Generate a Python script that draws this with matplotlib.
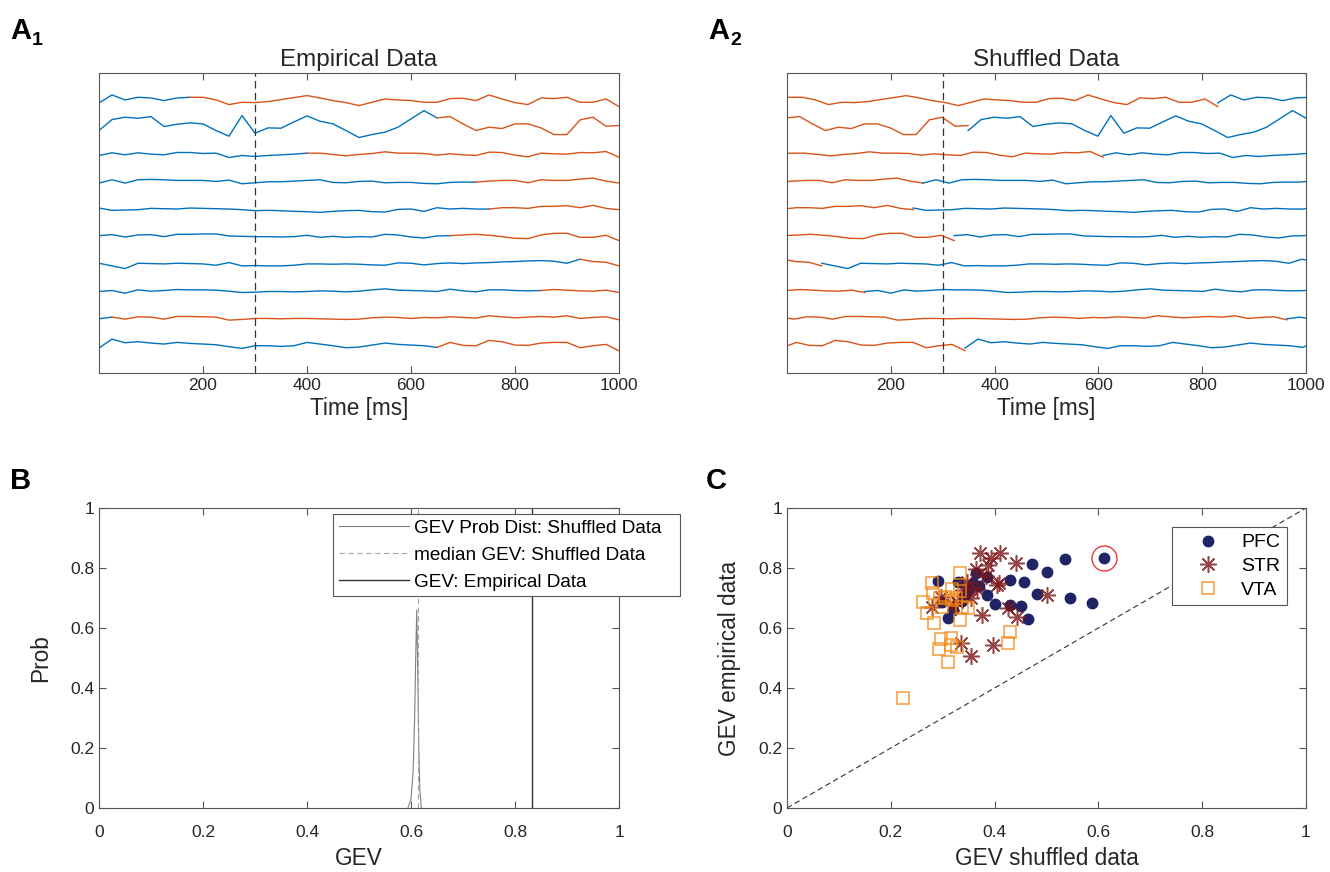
import numpy as np
import matplotlib.pyplot as plt
from matplotlib.lines import Line2D

plt.rcParams['font.family'] = ['Liberation Sans', 'DejaVu Sans']
plt.rcParams['axes.linewidth'] = 0.8
plt.rcParams['axes.edgecolor'] = '#555555'

# --- A: example trials (top to bottom), samples every 25 ms, arbitrary units
time_ms = np.arange(0, 1001, 25)

trial_01 = [-8, 16, 1, 9, 7, -1, 7, 9, 9, 1, -13, -6, -7, -4, 2, 8, 14, 7, -1, -7, -16,
            -6, 4, 1, -1, -6, -6, 5, 6, -1, 16, 4, -7, -13, 7, 5, 9, -6, -6, 4, -19]
trial_02 = [-9, 24, 31, 28, 33, 3, 10, 14, 11, -9, -26, 36, -17, -1, -2, 17, 35, 19, 11, -9, -30,
            -21, -14, 1, 26, 51, 29, 33, 11, -9, 1, -3, 11, 11, -1, -21, -21, 23, 31, 4, 6]
trial_03 = [-2, 6, 0, 6, 2, 0, 7, 7, 4, 5, -8, -2, -5, -2, 0, 2, 5, 5, 1, -3, 1,
            4, 9, 5, 5, 4, -1, 3, 0, -2, 8, 7, -1, -6, 5, 3, 2, 7, 6, 10, -7]
trial_04 = [-3, 7, -3, 7, 8, 7, 5, 5, 5, 2, 6, -5, -2, 1, 1, 3, 5, 7, -1, -2, 2,
            3, -2, -1, -1, -4, -5, -1, 0, 0, 3, 5, 5, -2, 7, 5, 5, 9, 12, 3, -3]
trial_05 = [4, -3, -2, -1, 3, 2, 1, 4, 3, 2, 1, -1, -4, -3, -4, -6, -7, -9, -6, -4, -3,
            -7, -8, 0, 1, -6, 5, 1, 3, 1, 1, 5, 5, 3, 9, 9, 11, 5, 12, 3, -1]
trial_06 = [3, 6, -1, 5, 6, 0, 7, 7, 8, 8, 2, 1, 0, 0, -1, 0, 4, -2, 1, -2, 0,
            -1, 7, 5, -1, -4, 2, 3, 5, 7, 4, 0, -5, -6, 5, 10, 10, -2, -2, 4, -12]
trial_07 = [2, -6, -14, 2, 1, 0, 2, 1, 0, -4, 4, -6, -5, -6, -6, -4, 0, 0, -1, 0, -1,
            -3, -4, 3, 2, -3, 1, 3, 1, 3, 4, 6, 7, 9, 10, 8, 2, 14, 7, 5, -6]
trial_08 = [-1, 2, -6, 4, 0, 2, 5, 4, 4, 3, 0, -4, -3, -1, -1, -2, -1, 1, 0, -2, 0,
            4, 7, 3, 2, 1, -1, 6, 1, -2, 4, 4, 2, 1, 2, 5, 3, 1, 0, 3, -4]
trial_09 = [-1, 4, -2, 5, 4, -2, 6, 6, 5, 4, -5, -3, 0, 0, -1, 0, 0, -1, -2, -3, -2,
            2, 4, 3, 0, 3, 2, 5, 3, 1, 8, 5, 2, 4, 6, 4, 8, 0, 3, 5, -4]
trial_10 = [-7, 20, 9, 12, 8, 5, 10, 7, 5, 3, -3, -8, 0, 0, -2, 0, 10, 5, 0, -6, -4,
            2, 8, 4, 2, 0, -5, 10, 1, 0, 16, 12, 2, 1, 8, 10, 10, -6, 0, 4, -15]
trials = [trial_01, trial_02, trial_03, trial_04, trial_05,
          trial_06, trial_07, trial_08, trial_09, trial_10]

# time where the state label switches (blue -> orange) in the empirical data
switch_ms = [175, 650, 400, 725, 750, 675, 925, 850, 25, 650]
# circular shift applied to each trial for the shuffled data
shift_ms = [830, 349, 609, 262, 243, 322, 67, 150, 963, 343]
event_ms = 300

# --- B: GEV distribution of the shuffled data
gev_grid = [0.594, 0.600, 0.604, 0.607, 0.609, 0.611, 0.613, 0.615, 0.617, 0.620]
gev_prob = [0.0, 0.03, 0.12, 0.30, 0.50, 0.66, 0.45, 0.20, 0.06, 0.0]
gev_median = 0.613
gev_empirical = 0.833

# --- C: GEV per session, shuffled vs empirical
pfc_x = [0.611, 0.536, 0.473, 0.501, 0.430, 0.457, 0.290, 0.330, 0.364, 0.386, 0.482, 0.545, 0.587,
         0.386, 0.401, 0.430, 0.450, 0.465, 0.311, 0.351, 0.359, 0.343, 0.298, 0.320, 0.338, 0.370]
pfc_y = [0.835, 0.829, 0.815, 0.786, 0.760, 0.752, 0.757, 0.755, 0.782, 0.771, 0.715, 0.699, 0.682,
         0.710, 0.681, 0.678, 0.673, 0.631, 0.633, 0.729, 0.751, 0.710, 0.688, 0.660, 0.690, 0.740]
str_x = [0.372, 0.410, 0.394, 0.441, 0.364, 0.388, 0.409, 0.367, 0.340, 0.296, 0.319, 0.279,
         0.375, 0.426, 0.443, 0.327, 0.500, 0.396, 0.335, 0.354, 0.383, 0.347, 0.355, 0.405]
str_y = [0.849, 0.851, 0.832, 0.818, 0.796, 0.810, 0.751, 0.729, 0.727, 0.702, 0.677, 0.671,
         0.643, 0.666, 0.636, 0.688, 0.710, 0.543, 0.551, 0.507, 0.773, 0.754, 0.700, 0.745]
vta_x = [0.333, 0.280, 0.282, 0.263, 0.269, 0.284, 0.317, 0.295, 0.317, 0.333, 0.337, 0.349, 0.333,
         0.298, 0.430, 0.223, 0.311, 0.292, 0.297, 0.316, 0.327, 0.425, 0.316, 0.305, 0.325]
vta_y = [0.784, 0.751, 0.718, 0.688, 0.651, 0.618, 0.729, 0.699, 0.693, 0.723, 0.671, 0.666, 0.627,
         0.671, 0.588, 0.366, 0.488, 0.529, 0.565, 0.568, 0.538, 0.551, 0.545, 0.705, 0.700]
best_session = (0.611, 0.835)

blue = '#0072BD'
orange = '#D95319'
txt = '#262626'

fig = plt.figure(figsize=(13.3, 8.72), dpi=100)
W, H = 1330, 872

def add_ax(x0, y0, x1, y1):
    # pixel box -> figure fraction
    return fig.add_axes([x0 / W, 1 - y1 / H, (x1 - x0) / W, (y1 - y0) / H])

def style(ax, xpad=3.5):
    ax.tick_params(direction='in', top=True, right=True, length=5, width=0.8,
                   color='#555555', labelcolor=txt, labelsize=12.5)
    ax.tick_params(axis='x', pad=xpad)

axA1 = add_ax(99, 73, 619, 373)
axA2 = add_ax(787, 73, 1306, 373)
axB = add_ax(99, 508, 619, 808)
axC = add_ax(787, 508, 1306, 808)

scale = 1 / 82
n = len(trials)
for k, tr in enumerate(trials):
    y = (n - k) + np.array(tr) * scale
    sw = switch_ms[k]
    b = time_ms <= sw
    o = time_ms >= sw
    axA1.plot(time_ms[b], y[b], color=blue, lw=1.0)
    axA1.plot(time_ms[o], y[o], color=orange, lw=1.0)
    s = shift_ms[k]
    # end of the trial wraps around to the front
    axA2.plot(time_ms - (1000 - s), y, color=orange, lw=1.0)
    axA2.plot(time_ms + s, y, color=blue, lw=1.0)

for ax, title in [(axA1, 'Empirical Data'), (axA2, 'Shuffled Data')]:
    ax.axvline(event_ms, color='#333333', ls=(0, (6, 3.5)), lw=0.9)
    ax.set_xlim(0, 1000)
    ax.set_ylim(0, n + 1)
    ax.set_xticks([200, 400, 600, 800, 1000])
    ax.set_yticks([])
    style(ax)
    ax.set_xlabel('Time [ms]', fontsize=16.3, color=txt, labelpad=3)
    ax.set_title(title, fontsize=17.5, color=txt, pad=5)

# B
ticks01 = [0, 0.2, 0.4, 0.6, 0.8, 1]
ticklab = ['0', '0.2', '0.4', '0.6', '0.8', '1']
axB.plot(gev_grid, gev_prob, color='0.5', lw=0.8)
axB.plot([gev_median, gev_median], [0, 1], color='0.65', ls=(0, (5, 3)), lw=0.8)
axB.plot([gev_empirical, gev_empirical], [0, 1], color='0.2', lw=1.0)
axB.set_xlim(0, 1)
axB.set_ylim(0, 1)
axB.set_xticks(ticks01, ticklab)
axB.set_yticks(ticks01, ticklab)
style(axB, xpad=12)
axB.set_xlabel('GEV', fontsize=16.3, color=txt, labelpad=5)
axB.set_ylabel('Prob', fontsize=16.3, color=txt, labelpad=13)
handles = [Line2D([], [], color='0.5', lw=0.8),
           Line2D([], [], color='0.65', ls=(0, (5, 3)), lw=0.8),
           Line2D([], [], color='0.2', lw=1.0)]
labels = ['GEV Prob Dist: Shuffled Data', 'median GEV: Shuffled Data', 'GEV: Empirical Data']
legB = fig.legend(handles, labels, loc='upper left', mode='expand',
                  bbox_to_anchor=(333 / W, 1 - 597 / H, 347 / W, 83 / H),
                  frameon=True, fancybox=False, framealpha=1, edgecolor='#555555', fontsize=13.7,
                  handlelength=3.7, handletextpad=0.25, labelspacing=0.5, borderpad=0.3,
                  borderaxespad=0)
legB.get_frame().set_linewidth(0.8)

# C
asterisk = (8, 2, 0)
axC.plot([0, 1], [0, 1], color='#333333', ls=(0, (5, 3)), lw=0.8)
axC.plot(pfc_x, pfc_y, 'o', color='#1f2466', ms=7.5, mec='#1f2466', ls='none', label='PFC')
axC.plot(str_x, str_y, marker=asterisk, color='#7b1416', mec='#7b1416', ms=12, mew=1.1,
         ls='none', alpha=0.8, label='STR')
axC.plot(vta_x, vta_y, 's', mfc='none', mec='#f28a17', mew=1.1, ms=9, ls='none', alpha=0.85, label='VTA')
axC.plot([best_session[0]], [best_session[1]], 'o', mfc='none', mec='#e8383d', mew=1.0, ms=18)
axC.set_xlim(0, 1)
axC.set_ylim(0, 1)
axC.set_xticks(ticks01, ticklab)
axC.set_yticks(ticks01, ticklab)
style(axC, xpad=12)
axC.set_xlabel('GEV shuffled data', fontsize=16.3, color=txt, labelpad=5)
axC.set_ylabel('GEV empirical data', fontsize=16.3, color=txt, labelpad=12)
legC = axC.legend(loc='upper right', bbox_to_anchor=(0.963, 0.937), frameon=True, fancybox=False,
                  framealpha=1, edgecolor='#555555', fontsize=14, handlelength=3.0,
                  handletextpad=0.2, labelspacing=0.31, borderpad=0.35, borderaxespad=0)
legC.get_frame().set_linewidth(0.8)

# panel letters
fig.text(10 / W, 1 - 39 / H, 'A', fontsize=21, fontweight='bold', color='k')
fig.text(32 / W, 1 - 45 / H, '1', fontsize=14, fontweight='bold', color='k')
fig.text(708 / W, 1 - 39 / H, 'A', fontsize=21, fontweight='bold', color='k')
fig.text(730 / W, 1 - 45 / H, '2', fontsize=14, fontweight='bold', color='k')
fig.text(10 / W, 1 - 489 / H, 'B', fontsize=21, fontweight='bold', color='k')
fig.text(706 / W, 1 - 489 / H, 'C', fontsize=21, fontweight='bold', color='k')

fig.savefig('out.png', dpi=100)
